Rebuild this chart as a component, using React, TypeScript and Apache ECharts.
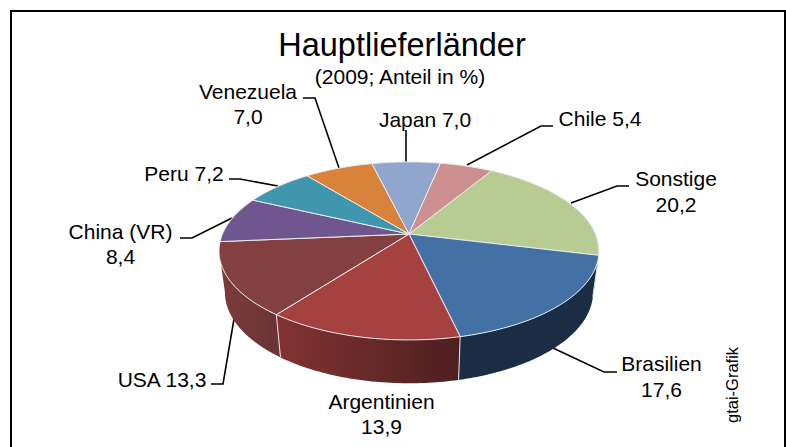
import React, { useEffect, useRef } from "react";
import * as echarts from "echarts";

const categories = ["Sonstige", "Brasilien", "Argentinien", "USA", "China (VR)", "Peru", "Venezuela", "Japan", "Chile"];
const shares = [20.2, 17.6, 13.9, 13.3, 8.4, 7.2, 7.0, 7.0, 5.4];
const topColors = ["#b6cc92", "#4371a6", "#a54240", "#834040", "#70568e", "#3f96ae", "#d9823b", "#90a6cc", "#cd8f8f"];
const sideColors = [
  ["#5c6e42", "#5c6e42"],
  ["#1b2d45", "#1b2d45"],
  ["#823333", "#4e1f1f"],
  ["#7d3b3b", "#693433"],
  ["#3c2c50", "#3c2c50"],
  ["#215666", "#215666"],
  ["#80481d", "#80481d"],
  ["#52607a", "#52607a"],
  ["#7a5050", "#7a5050"],
];

const titleText = "Hauptlieferländer";
const subtitleText = "(2009; Anteil in %)";
const sourceText = "gtai-Grafik";

const fmt = (v: number) => v.toFixed(1).replace(".", ",");

// label anchor per category, with whether the value goes on a second line
const labelSpots = [
  { x: 676, y: 191.5, twoLines: true },
  { x: 661.5, y: 376.5, twoLines: true },
  { x: 381.5, y: 414, twoLines: true },
  { x: 162, y: 379, twoLines: false },
  { x: 120.5, y: 244, twoLines: true },
  { x: 184, y: 173, twoLines: false },
  { x: 248, y: 104, twoLines: true },
  { x: 425, y: 119, twoLines: false },
  { x: 600, y: 118.5, twoLines: false },
];
const leaderLines = [
  [[629, 186], [617, 186], [571, 203]],
  [[617, 372], [604, 372], [553, 348]],
  [],
  [[211, 384], [223, 384], [234, 319]],
  [[180, 238], [192, 238], [232, 218]],
  [[229, 179], [240, 179], [278, 186]],
  [[303, 98], [315, 98], [339, 168]],
  [[406, 130], [406, 162]],
  [[553, 126], [541, 126], [467, 165]],
];

const START_DEG = -59;
const P = 0.19;
const TOP = { cx: 409, y0: 234, kx: 186.5, ky: 85.8 };
const BOTTOM = { cx: 409, y0: 275, kx: 180.7, ky: 87.7 };
const total = shares.reduce((a, b) => a + b, 0);

function rim(g: typeof TOP, deg: number) {
  const t = (deg * Math.PI) / 180;
  const d = 1 - P * Math.sin(t);
  return [g.cx + (g.kx * Math.cos(t)) / d, g.y0 + (g.ky * Math.sin(t)) / d];
}
function sweep(index: number) {
  let acc = 0;
  for (let i = 0; i < index; i++) acc += shares[i];
  const a0 = START_DEG + (acc / total) * 360;
  return [a0, a0 + (shares[index] / total) * 360];
}
function arcPoints(g: typeof TOP, a0: number, a1: number) {
  const pts: number[][] = [];
  const n = Math.max(2, Math.ceil(Math.abs(a1 - a0)));
  for (let i = 0; i <= n; i++) pts.push(rim(g, a0 + ((a1 - a0) * i) / n));
  return pts;
}

const VIS0 = 11;
const VIS1 = 169;

function renderSide(params: any, api: any) {
  const i = params.dataIndex;
  const value = api.value(0);
  const [a0, a1] = sweep(i);
  const s0 = Math.max(a0, VIS0);
  const s1 = Math.min(a1, VIS1);
  if (s1 <= s0 || !value) return { type: "group", children: [] };
  const pts = arcPoints(TOP, s0, s1).concat(arcPoints(BOTTOM, s1, s0));
  const children: any[] = [
    {
      type: "polygon",
      shape: { points: pts },
      style: {
        fill: new echarts.graphic.LinearGradient(0, 0, 1, 0, [
          { offset: 0, color: sideColors[i][0] },
          { offset: 1, color: sideColors[i][1] },
        ]),
      },
    },
  ];
  if (a0 > VIS0) {
    const p = rim(TOP, a0);
    const q = rim(BOTTOM, a0);
    children.push({
      type: "line",
      shape: { x1: p[0], y1: p[1], x2: q[0], y2: q[1] },
      style: { stroke: "#e6e6e6", lineWidth: 1 },
    });
  }
  return { type: "group", children };
}
function renderTop(params: any, api: any) {
  const i = params.dataIndex;
  const value = api.value(0);
  const [a0, a1] = sweep(i);
  if (!value) return { type: "group", children: [] };
  const pts = [[TOP.cx, TOP.y0]].concat(arcPoints(TOP, a0, a1));
  return {
    type: "polygon",
    shape: { points: pts },
    style: { fill: topColors[i], stroke: "#ececec", lineWidth: 1 },
  };
}

const FONT = '"Liberation Sans", Arial, sans-serif';

export default function App() {
  const ref = useRef<HTMLDivElement>(null);
  useEffect(() => {
    document.body.style.margin = "0";
    document.body.style.background = "#fff";
    const chart = echarts.init(ref.current!, null, { renderer: "svg" });
    const data = shares.map((v, i) => ({ name: categories[i], value: v }));
    const labels = categories.map((c, i) => ({
      type: "text",
      x: labelSpots[i].x,
      y: labelSpots[i].y,
      silent: true,
      style: {
        text: labelSpots[i].twoLines ? `${c}\n${fmt(shares[i])}` : `${c} ${fmt(shares[i])}`,
        fontFamily: FONT,
        fontSize: 21,
        lineHeight: 25.5,
        fill: "#000",
        align: "center",
        verticalAlign: "middle",
      },
    }));
    const lines = leaderLines
      .filter((l) => l.length)
      .map((l) => ({
        type: "polyline",
        silent: true,
        z: 1,
        shape: { points: l },
        style: { stroke: "#000", lineWidth: 1.6, fill: "none" },
      }));
    chart.setOption({
      animation: false,
      backgroundColor: "#fff",
      title: [
        {
          text: titleText,
          left: 397,
          top: 23,
          textAlign: "center",
          textStyle: { fontFamily: FONT, fontSize: 32.5, fontWeight: "normal", color: "#000" },
        },
        {
          text: subtitleText,
          left: 395,
          top: 61,
          textAlign: "center",
          textStyle: { fontFamily: FONT, fontSize: 21, fontWeight: "normal", color: "#000" },
        },
      ],
      series: [
        { type: "custom", coordinateSystem: "none", data, renderItem: renderSide, z: 2, silent: true },
        { type: "custom", coordinateSystem: "none", data, renderItem: renderTop, z: 3, silent: true },
      ],
      graphic: [
        {
          type: "rect",
          z: -1,
          silent: true,
          shape: { x: 11, y: 11, width: 774, height: 460 },
          style: { fill: "#fff", stroke: "#000", lineWidth: 2 },
        },
        ...lines,
        ...labels,
        {
          type: "text",
          x: 732,
          y: 385,
          rotation: Math.PI / 2,
          silent: true,
          style: {
            text: sourceText,
            fontFamily: FONT,
            fontSize: 16.5,
            fill: "#000",
            align: "center",
            verticalAlign: "middle",
          },
        },
      ],
    });
    return () => chart.dispose();
  }, []);
  return <div ref={ref} style={{ width: 786, height: 447 }} />;
}
